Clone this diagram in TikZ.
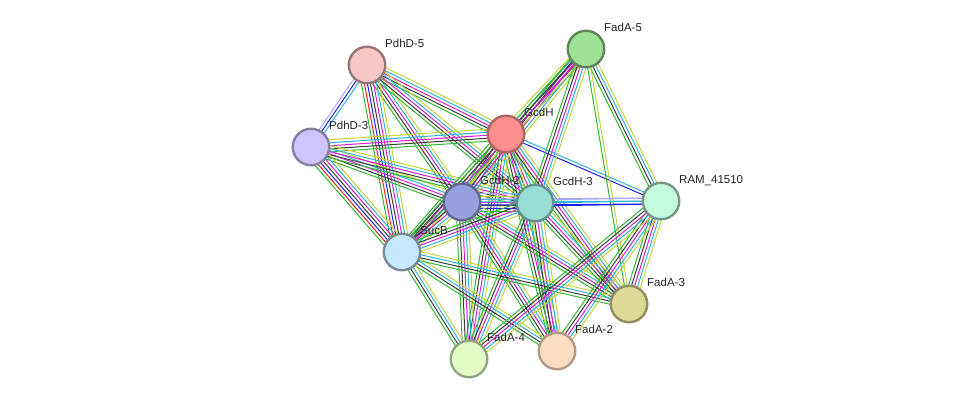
\documentclass[tikz,border=0pt]{standalone}
\usepackage{fontspec}
\setsansfont{Liberation Sans}
\usetikzlibrary{calc,backgrounds}
% evidence channels
\definecolor{evn}{HTML}{33B833}
\definecolor{evf}{HTML}{F02020}
\definecolor{evo}{HTML}{2020F0}
\definecolor{evx}{HTML}{3C3C3C}
\definecolor{eve}{HTML}{D820D8}
\definecolor{evd}{HTML}{30B4DC}
\definecolor{evt}{HTML}{C4D438}
\definecolor{evh}{HTML}{A8A8F4}
% proteins
\definecolor{pdhdfive}{HTML}{F7C7C7}
\definecolor{pdhdthree}{HTML}{D0C2FA}
\definecolor{fadafive}{HTML}{9EE095}
\definecolor{gcdh}{HTML}{FE8F8F}
\definecolor{gcdhtwo}{HTML}{97A0DE}
\definecolor{gcdhthree}{HTML}{98DDD4}
\definecolor{ramprot}{HTML}{C4FADC}
\definecolor{sucb}{HTML}{C6E8FC}
\definecolor{fadathree}{HTML}{DDDA96}
\definecolor{fadatwo}{HTML}{FDDDC2}
\definecolor{fadafour}{HTML}{E2FCC6}
\tikzset{
  prot/.style={circle,minimum size=36.5pt,inner sep=0pt,line width=2.4pt},
  tag/.style={anchor=base west,inner sep=0pt,font=\sffamily\fontsize{11.5}{12}\selectfont,text=black!85},
  evline/.style={line width=1pt}
}
% one link = parallel lines, one per evidence channel
\newcommand{\evlink}[3]{%
  \foreach \evc [count=\k] in {#3} {\xdef\evnum{\k}}%
  \foreach \evc [count=\k] in {#3} {%
    \pgfmathsetmacro{\evoff}{(\k-(\evnum+1)/2)*3}%
    \draw[evline,draw=ev\evc] ($(#1)!\evoff pt!90:(#2)$) -- ($(#2)!\evoff pt!-90:(#1)$);
  }}

\begin{document}
\begin{tikzpicture}[x=1pt,y=-1pt]
  \useasboundingbox (0,0) rectangle (976,405);
  \node[prot,fill=pdhdfive,draw=pdhdfive!60!black] (P5) at (367,65) {};
  \node[prot,fill=fadafive,draw=fadafive!60!black] (F5) at (586,49) {};
  \node[prot,fill=gcdh,draw=gcdh!70!black] (G) at (506,134) {};
  \node[prot,fill=pdhdthree,draw=pdhdthree!65!black] (P3) at (311,147) {};
  \node[prot,fill=gcdhtwo,draw=gcdhtwo!65!black] (G2) at (462,202) {};
  \node[prot,fill=gcdhthree,draw=gcdhthree!65!black] (G3) at (535,203) {};
  \node[prot,fill=ramprot,draw=ramprot!60!black] (R) at (661,201) {};
  \node[prot,fill=sucb,draw=sucb!60!black] (S) at (402,252) {};
  \node[prot,fill=fadathree,draw=fadathree!65!black] (F3) at (629,304) {};
  \node[prot,fill=fadatwo,draw=fadatwo!70!black] (F2) at (557,351) {};
  \node[prot,fill=fadafour,draw=fadafour!65!black] (F4) at (469,359) {};
  % labels
  \node[tag] (P5-l) at ($(P5)+(18,-17.3)$) {PdhD-5};
  \node[tag] (F5-l) at ($(F5)+(18,-17.3)$) {FadA-5};
  \node[tag] (G-l) at ($(G)+(18,-17.3)$) {GcdH};
  \node[tag] (P3-l) at ($(P3)+(18,-17.3)$) {PdhD-3};
  \node[tag] (G2-l) at ($(G2)+(18,-17.3)$) {GcdH-2};
  \node[tag] (G3-l) at ($(G3)+(18,-17.3)$) {GcdH-3};
  \node[tag] (R-l) at ($(R)+(18,-17.3)$) {RAM\_41510};
  \node[tag] (S-l) at ($(S)+(18,-17.3)$) {SucB};
  \node[tag] (F3-l) at ($(F3)+(18,-17.3)$) {FadA-3};
  \node[tag] (F2-l) at ($(F2)+(18,-17.3)$) {FadA-2};
  \node[tag] (F4-l) at ($(F4)+(18,-17.3)$) {FadA-4};
  \begin{pgfonlayer}{background}
    \evlink{P5}{P3}{h,o,d}
    \evlink{P5}{G}{n,x,e,d,t}
    \evlink{P5}{G2}{n,x,e,d,t}
    \evlink{P5}{G3}{n,x,e,d,t}
    \evlink{P5}{S}{n,f,o,x,e,d,t}
    \evlink{P3}{G}{n,x,e,d,t}
    \evlink{P3}{G2}{n,x,e,d,t}
    \evlink{P3}{G3}{n,x,e,d,t}
    \evlink{P3}{S}{n,f,o,x,e,d,t}
    \evlink{G}{F5}{n,x,e,d,t}
    \evlink{G}{G2}{n,x,e,d,t}
    \evlink{G}{G3}{n,x,e,d,t}
    \evlink{G}{R}{o,d}
    \evlink{G}{S}{n,x,e,d,t}
    \evlink{G}{F2}{n,x,e,d,t}
    \evlink{G}{F3}{n,x,e,d,t}
    \evlink{G}{F4}{n,x,e,d,t}
    \evlink{F5}{G2}{n,x,e,d,t}
    \evlink{F5}{G3}{n,x,e,d,t}
    \evlink{F5}{S}{n,x,e,t}
    \evlink{F5}{R}{n,x,d,t}
    \evlink{F5}{F3}{n,t}
    \evlink{G2}{G3}{n,o,x,e,d,t,h}
    \evlink{G2}{R}{o,d,h}
    \evlink{G3}{R}{o,d,h}
    \evlink{G2}{S}{n,x,e,d,t}
    \evlink{G2}{F2}{n,x,e,d,t}
    \evlink{G2}{F3}{n,x,e,d,t}
    \evlink{G2}{F4}{n,x,e,d,t}
    \evlink{G3}{S}{n,x,e,d,t}
    \evlink{G3}{F2}{n,x,e,d,t}
    \evlink{G3}{F3}{n,x,e,d,t}
    \evlink{G3}{F4}{n,x,e,d,t}
    \evlink{S}{F2}{n,x,d,t}
    \evlink{S}{F3}{n,x,d,t}
    \evlink{S}{F4}{n,x,d,t}
    \evlink{R}{F3}{n,x,e,d,t}
    \evlink{R}{F2}{n,x,e,d,t}
    \evlink{R}{F4}{n,x,e,d,t}
  \end{pgfonlayer}
\end{tikzpicture}
\end{document}
